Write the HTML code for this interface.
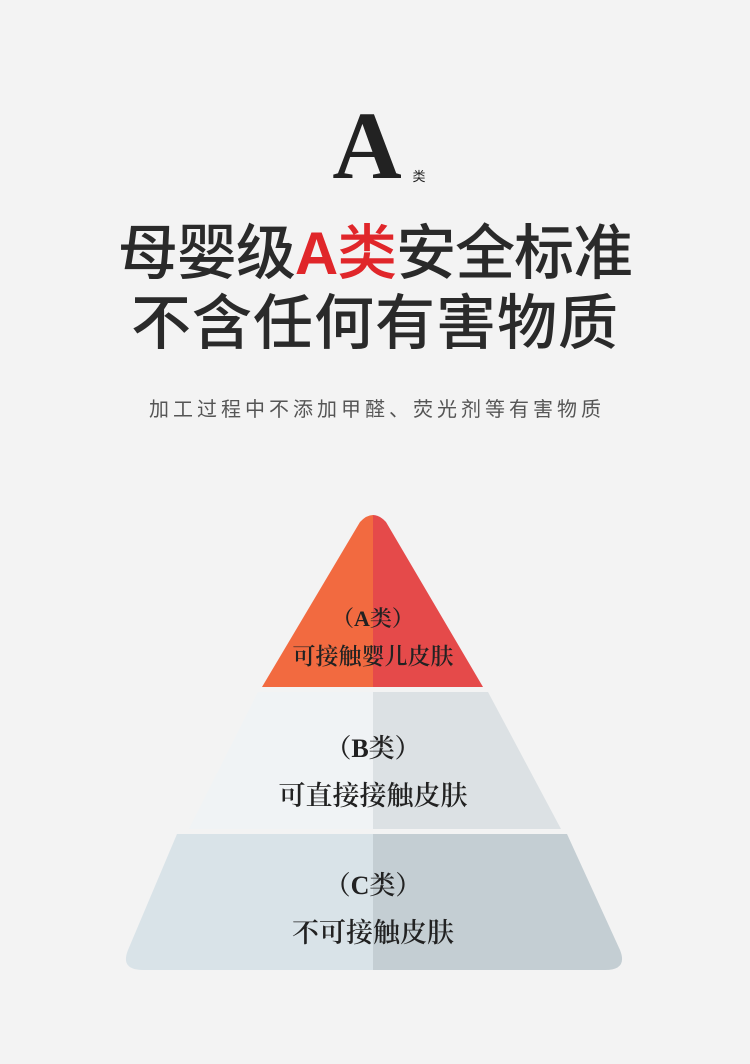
<!DOCTYPE html>
<html><head><meta charset="utf-8"><style>
body{margin:0;width:750px;height:1064px;background:#f3f3f3;overflow:hidden;position:relative;font-family:"Liberation Sans","Noto Sans CJK SC",sans-serif}
.t{position:absolute;left:0;width:750px;text-align:center;white-space:nowrap}
</style></head><body>
<div class="t" style="top:98px;font-family:'Liberation Serif','Noto Serif CJK SC',serif;font-size:96px;font-weight:bold;color:#222;line-height:96px;left:-8px">A</div>
<div class="t" style="top:166px;left:44px;font-size:13px;color:#222">类</div>
<div class="t" style="top:218px;font-size:60px;font-weight:500;color:#2a2a2a;line-height:72px;letter-spacing:-1px">母婴级<span style="color:#e0262a"><b>A</b>类</span>安全标准</div>
<div class="t" style="top:288px;font-size:60px;font-weight:500;color:#2a2a2a;line-height:72px;letter-spacing:1px">不含任何有害物质</div>
<div class="t" style="top:393px;font-size:20px;color:#555;letter-spacing:4px;left:2px">加工过程中不添加甲醛、荧光剂等有害物质</div>
<svg style="position:absolute;left:0;top:0" width="750" height="1064">
<defs><clipPath id="l"><rect x="0" y="0" width="373" height="1064"/></clipPath><clipPath id="r"><rect x="373" y="0" width="400" height="1064"/></clipPath></defs>
<g clip-path="url(#l)">
<path d="M262,687 L360,522 Q373,508 386,522 L483,687 Z" fill="#f26a40"/>
<path d="M258,692 L488,692 L561,829 L189,829 Z" fill="#f0f3f5"/>
<path d="M177,834 L567,834 L620,950 Q628,970 605,970 L143,970 Q120,970 128,950 Z" fill="#d9e3e8"/>
</g>
<g clip-path="url(#r)">
<path d="M262,687 L360,522 Q373,508 386,522 L483,687 Z" fill="#e54a4a"/>
<path d="M258,692 L488,692 L561,829 L189,829 Z" fill="#dce1e4"/>
<path d="M177,834 L567,834 L620,950 Q628,970 605,970 L143,970 Q120,970 128,950 Z" fill="#c4ced3"/>
</g>
<g font-family="'Liberation Serif','Noto Serif CJK SC',serif" fill="#222" text-anchor="middle" font-weight="600">
<text x="373" y="626" font-size="22">（A类）</text>
<text x="373" y="664" font-size="23">可接触婴儿皮肤</text>
<text x="373" y="757" font-size="26">（B类）</text>
<text x="373" y="805" font-size="27">可直接接触皮肤</text>
<text x="373" y="894" font-size="26">（C类）</text>
<text x="373" y="942" font-size="27">不可接触皮肤</text>
</g>
</svg>
</body></html>
